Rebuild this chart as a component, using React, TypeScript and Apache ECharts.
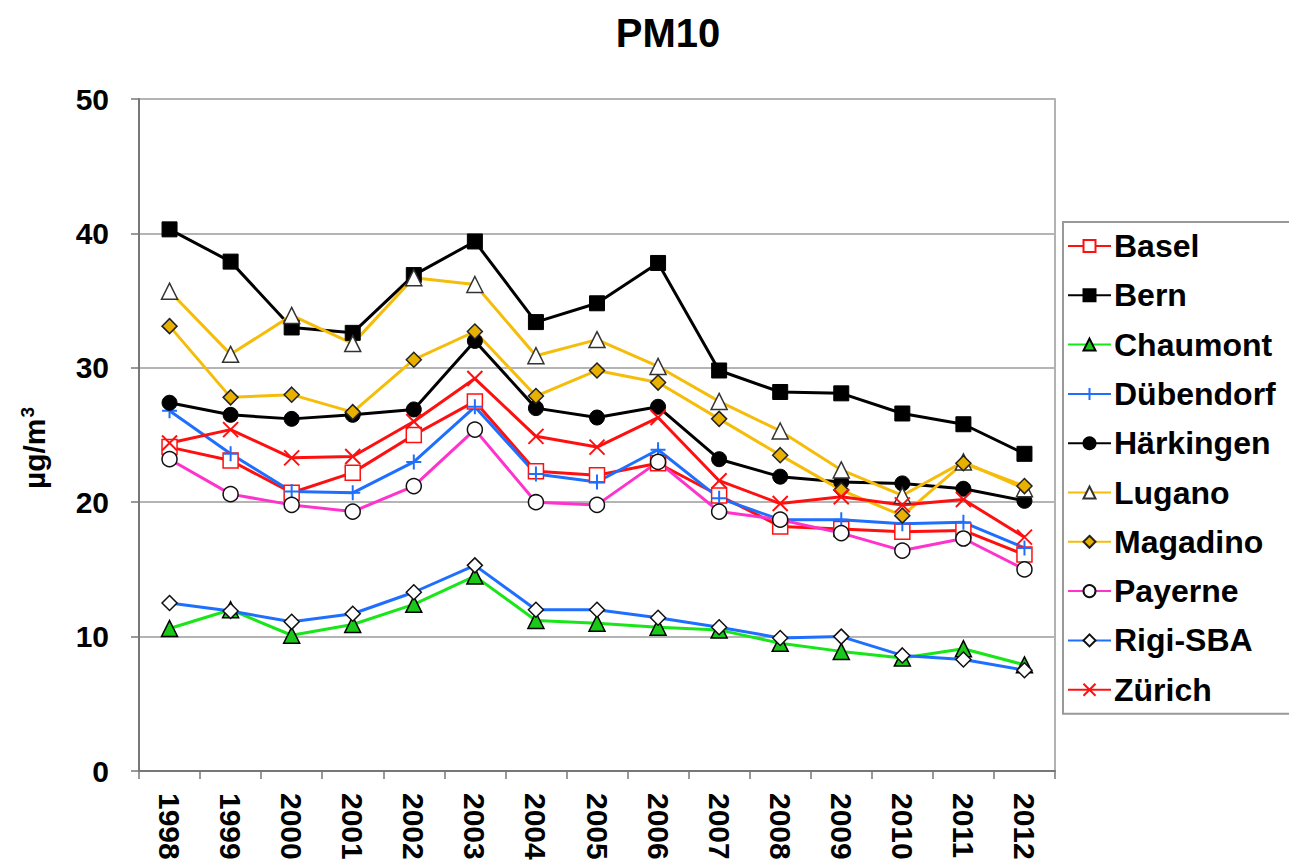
import React, { useEffect, useRef } from "react";
import * as echarts from "echarts";

const years = ["1998", "1999", "2000", "2001", "2002", "2003", "2004", "2005", "2006", "2007", "2008", "2009", "2010", "2011", "2012"];
const basel = [24.1, 23.1, 20.7, 22.2, 25.0, 27.5, 22.3, 22.0, 22.9, 20.5, 18.2, 18.0, 17.8, 17.9, 16.1];
const bern = [40.3, 37.9, 33.0, 32.6, 36.9, 39.4, 33.4, 34.8, 37.8, 29.8, 28.2, 28.1, 26.6, 25.8, 23.6];
const chaumont = [10.6, 12.0, 10.1, 10.9, 12.4, 14.5, 11.2, 11.0, 10.7, 10.5, 9.5, 8.9, 8.4, 9.1, 7.9];
const duebendorf = [26.8, 23.6, 20.8, 20.7, 23.0, 27.1, 22.1, 21.5, 23.9, 20.3, 18.7, 18.7, 18.4, 18.5, 16.6];
const haerkingen = [27.4, 26.5, 26.2, 26.5, 26.9, 32.0, 27.0, 26.3, 27.1, 23.2, 21.9, 21.5, 21.4, 21.0, 20.1];
const lugano = [35.7, 31.0, 33.9, 31.8, 36.7, 36.2, 30.9, 32.1, 30.1, 27.5, 25.3, 22.4, 20.5, 23.0, 21.0];
const magadino = [33.1, 27.8, 28.0, 26.7, 30.6, 32.7, 27.9, 29.8, 28.9, 26.2, 23.5, 20.9, 19.0, 22.9, 21.2];
const payerne = [23.2, 20.6, 19.8, 19.3, 21.2, 25.4, 20.0, 19.8, 23.0, 19.3, 18.7, 17.7, 16.4, 17.3, 15.0];
const rigi = [12.5, 11.9, 11.1, 11.7, 13.3, 15.3, 12.0, 12.0, 11.4, 10.7, 9.9, 10.0, 8.6, 8.3, 7.5];
const zuerich = [24.4, 25.4, 23.3, 23.4, 26.0, 29.2, 24.9, 24.1, 26.3, 21.6, 19.9, 20.4, 19.8, 20.2, 17.4];

const yTicks = { min: 0, max: 50, interval: 10 };

const FONT = "'Liberation Sans', Arial, Helvetica, sans-serif";
const PLUS = "path://M5,0 L5,10 M0,5 L10,5";
const CROSS = "path://M0,0 L10,10 M10,0 L0,10";

function mk(name: string, data: number[], line: string, symbol: string, size: number, fill: string, border: string, bw = 1.5) {
  return {
    name,
    type: "line",
    data,
    symbol,
    symbolSize: size,
    lineStyle: { color: line, width: 3 },
    itemStyle: { color: fill, borderColor: border, borderWidth: bw },
    emphasis: { disabled: true },
  };
}

export default function App() {
  const ref = useRef<HTMLDivElement>(null);
  useEffect(() => {
    if (!ref.current) return;
    const chart = echarts.init(ref.current, undefined, { renderer: "svg" });
    const series = [
      mk("Basel", basel, "#ff1010", "rect", 15, "#ffffff", "#ff1010", 1.5),
      mk("Bern", bern, "#000000", "rect", 15, "#000000", "#000000", 1),
      mk("Chaumont", chaumont, "#19e619", "triangle", 16, "#19c819", "#000000", 1.5),
      mk("Dübendorf", duebendorf, "#1f6fff", PLUS, 15, "#1f6fff", "#1f6fff", 2),
      mk("Härkingen", haerkingen, "#000000", "circle", 15, "#000000", "#000000", 1),
      mk("Lugano", lugano, "#f5bd0a", "triangle", 16, "#ffffff", "#333333", 1.5),
      mk("Magadino", magadino, "#f5bd0a", "diamond", 15, "#e8b000", "#222222", 1.5),
      mk("Payerne", payerne, "#ff33cc", "circle", 15, "#ffffff", "#111111", 1.5),
      mk("Rigi-SBA", rigi, "#1f6fff", "diamond", 15, "#ffffff", "#111111", 1.5),
      mk("Zürich", zuerich, "#ff1010", CROSS, 15, "#ff1010", "#ff1010", 2),
    ];
    chart.setOption({
      animation: false,
      backgroundColor: "#ffffff",
      title: {
        text: "PM10",
        left: 663,
        textAlign: "center",
        top: 8,
        textStyle: { fontFamily: FONT, fontSize: 40, fontWeight: "bold", color: "#000" },
      },
      grid: {
        left: 139,
        top: 99,
        right: 234,
        bottom: 95,
        show: true,
        borderColor: "#999999",
        borderWidth: 1.5,
        backgroundColor: "transparent",
      },
      legend: {
        orient: "vertical",
        left: 1063,
        top: 222,
        padding: [8, 60, 8, 4],
        itemWidth: 43,
        itemHeight: 15,
        itemGap: 17.3,
        borderColor: "#999999",
        borderWidth: 2,
        backgroundColor: "#ffffff",
        textStyle: { fontFamily: FONT, fontSize: 32, fontWeight: "bold", color: "#000", lineHeight: 30, padding: [0, 0, 0, -2] },
        data: series.map((s) => s.name),
      },
      xAxis: {
        type: "category",
        data: years,
        boundaryGap: true,
        axisLine: { lineStyle: { color: "#777777", width: 2 } },
        axisTick: { show: true, interval: 0, length: 8, lineStyle: { color: "#777777", width: 1.5 } },
        axisLabel: {
          interval: 0,
          rotate: -90,
          margin: 22,
          fontFamily: FONT,
          fontSize: 30,
          fontWeight: "bold",
          color: "#000",
        },
        splitLine: { show: false },
      },
      yAxis: {
        type: "value",
        min: yTicks.min,
        max: yTicks.max,
        interval: yTicks.interval,
        name: "{a|µg/m}{b|3}",
        nameLocation: "middle",
        nameGap: 88,
        nameTextStyle: {
          fontFamily: FONT,
          fontSize: 30,
          fontWeight: "bold",
          color: "#000",
          padding: [0, 26, 0, 0],
          rich: {
            a: { fontFamily: FONT, fontSize: 30, fontWeight: "bold", color: "#000" },
            b: { fontFamily: FONT, fontSize: 19, fontWeight: "bold", color: "#000", padding: [0, 0, 14, 1] },
          },
        },
        axisLine: { show: true, lineStyle: { color: "#777777", width: 2 } },
        axisTick: { show: true, length: 8, lineStyle: { color: "#777777", width: 1.5 } },
        axisLabel: { margin: 30, fontFamily: FONT, fontSize: 30, fontWeight: "bold", color: "#000" },
        splitLine: { show: true, lineStyle: { color: "#b4b4b4", width: 2 } },
      },
      series,
    });
    return () => chart.dispose();
  }, []);
  return <div ref={ref} style={{ position: "fixed", left: 0, top: 0, width: 1289, height: 866 }} />;
}
